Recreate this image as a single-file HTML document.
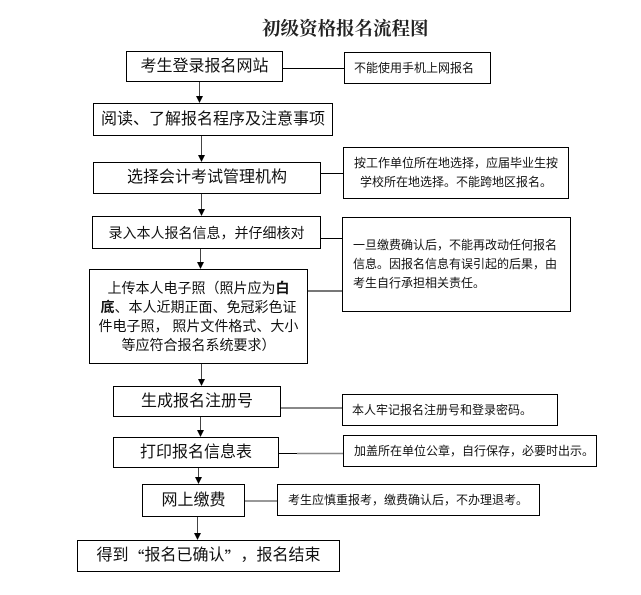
<!DOCTYPE html>
<html>
<head>
<meta charset="utf-8">
<style>
html,body{margin:0;padding:0;background:#fff;}
body{width:641px;height:595px;position:relative;overflow:hidden;}
.t{position:absolute;left:262px;top:20px;font-family:"Liberation Serif","Noto Serif CJK SC",serif;font-weight:bold;font-size:18.5px;line-height:20px;color:#222;white-space:nowrap;}
.b{position:absolute;box-sizing:border-box;border:1px solid #000;background:#fff;display:flex;align-items:center;justify-content:center;font-family:"Liberation Sans","Noto Sans CJK SC",sans-serif;color:#111;white-space:nowrap;font-size:16px;line-height:20px;}
.s{justify-content:flex-start;padding-left:9px;font-size:12px;}
.q1,.q2{display:inline-block;width:1em;font-family:"Noto Sans CJK SC",sans-serif;}
.q1{text-align:right;}
.q2{text-align:left;}
svg{position:absolute;left:0;top:0;}
</style>
</head>
<body>
<svg width="641" height="595" viewBox="0 0 641 595">
  <!-- horizontal connectors -->
  <line x1="282" y1="68.5" x2="344" y2="68.5" stroke="#000" stroke-width="1"/>
  <line x1="320" y1="173.5" x2="343" y2="173.5" stroke="#000" stroke-width="1"/>
  <line x1="320" y1="238.5" x2="342" y2="238.5" stroke="#000" stroke-width="1"/>
  <line x1="307" y1="291" x2="342" y2="291" stroke="#777" stroke-width="2"/>
  <line x1="281" y1="408" x2="342" y2="408" stroke="#888" stroke-width="2"/>
  <line x1="278" y1="453.5" x2="297" y2="453.5" stroke="#000" stroke-width="1"/>
  <line x1="297" y1="453.5" x2="343" y2="453.5" stroke="#888" stroke-width="1.5"/>
  <line x1="244" y1="501" x2="277" y2="501" stroke="#777" stroke-width="1.5"/>
  <!-- arrows -->
  <g stroke="#444" stroke-width="1">
    <line x1="199.5" y1="81" x2="199.5" y2="97"/>
    <line x1="201.5" y1="135" x2="201.5" y2="156"/>
    <line x1="201.5" y1="193" x2="201.5" y2="210"/>
    <line x1="200.5" y1="248" x2="200.5" y2="263"/>
    <line x1="201.5" y1="363" x2="201.5" y2="380"/>
    <line x1="200.5" y1="416" x2="200.5" y2="431"/>
    <line x1="198.5" y1="467" x2="198.5" y2="478"/>
    <line x1="197.5" y1="516" x2="197.5" y2="534"/>
  </g>
  <g fill="#000">
    <polygon points="196,96 203,96 199.5,103"/>
    <polygon points="198,155 205,155 201.5,162"/>
    <polygon points="198,209 205,209 201.5,216"/>
    <polygon points="197,262 204,262 200.5,269"/>
    <polygon points="198,379 205,379 201.5,386"/>
    <polygon points="197,430 204,430 200.5,437"/>
    <polygon points="195,477 202,477 198.5,484"/>
    <polygon points="194,533 201,533 197.5,540"/>
  </g>
</svg>

<div class="t">初级资格报名流程图</div>

<div class="b" style="left:126px;top:51px;width:157px;height:31px;">考生登录报名网站</div>
<div class="b s" style="left:344px;top:52px;width:147px;height:32px;">不能使用手机上网报名</div>

<div class="b" style="left:93px;top:103px;width:240px;height:33px;">阅读、了解报名程序及注意事项</div>

<div class="b" style="left:93px;top:162px;width:228px;height:32px;">选择会计考试管理机构</div>
<div class="b" style="left:343px;top:147px;width:226px;height:52px;font-size:12px;"><div style="text-align:center;line-height:19.5px;">按工作单位所在地选择，应届毕业生按<br>学校所在地选择。不能跨地区报名。</div></div>

<div class="b" style="left:92px;top:216px;width:229px;height:33px;font-size:14px;">录入本人报名信息，并仔细核对</div>
<div class="b" style="left:342px;top:217px;width:229px;height:95px;font-size:12px;display:block;padding:18px 0 0 10px;line-height:19px;">一旦缴费确认后，不能再改动任何报名<br>信息。因报名信息有误引起的后果，由<br>考生自行承担相关责任。</div>

<div class="b" style="left:89px;top:269px;width:219px;height:95px;font-size:14px;"><div style="text-align:center;line-height:19px;">上传本人电子照（照片应为<b>白</b><br><b>底</b>、本人近期正面、免冠彩色证<br>件电子照， 照片文件格式、大小<br>等应符合报名系统要求）</div></div>

<div class="b" style="left:113px;top:386px;width:168px;height:31px;">生成报名注册号</div>
<div class="b s" style="left:342px;top:394px;width:216px;height:32px;">本人牢记报名注册号和登录密码。</div>

<div class="b" style="left:113px;top:437px;width:166px;height:31px;">打印报名信息表</div>
<div class="b s" style="left:343px;top:435px;width:254px;height:32px;padding-left:10px;">加盖所在单位公章，自行保存，必要时出示。</div>

<div class="b" style="left:142px;top:484px;width:103px;height:33px;">网上缴费</div>
<div class="b s" style="left:277px;top:484px;width:263px;height:32px;padding-left:10px;">考生应慎重报考，缴费确认后，不办理退考。</div>

<div class="b" style="left:77px;top:540px;width:263px;height:32px;">得到<span class="q1">“</span>报名已确认<span class="q2">”</span>，报名结束</div>
</body>
</html>
